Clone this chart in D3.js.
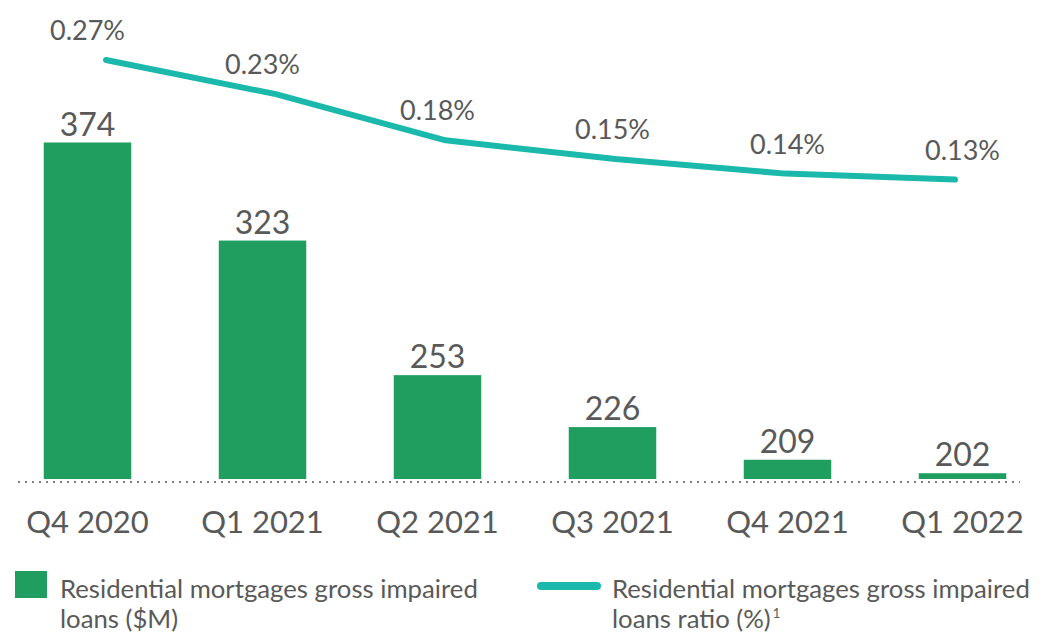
<!DOCTYPE html>
<html>
<head>
<meta charset="utf-8">
<script src="https://cdn.jsdelivr.net/npm/d3@7/dist/d3.min.js"></script>
<style>
  html, body { margin: 0; padding: 0; background: #fff; }
  svg { display: block; }
  text { font-family: Lato, "Open Sans", sans-serif; fill: #595959; }
</style>
</head>
<body>
<svg id="chart" width="1061" height="636"></svg>
<script>
// ---- data ----
const categories = ["Q4 2020", "Q1 2021", "Q2 2021", "Q3 2021", "Q4 2021", "Q1 2022"];
const impairedLoans = [374, 323, 253, 226, 209, 202];           // $M
const impairedRatio = [0.27, 0.23, 0.176, 0.154, 0.137, 0.13];   // %
const legendBars = ["Residential mortgages gross impaired", "loans ($M)"];
const legendLine = ["Residential mortgages gross impaired", "loans ratio (%)", "1"];

const svg = d3.select("#chart");
const BAR = "#1f9e60", LINE = "#1bb9ab";

// ---- scales ----
const x = d3.scaleBand().domain(categories).range([0, 1050]).paddingInner(0.5).paddingOuter(0.25);
const xLine = d3.scalePoint().domain(categories).range([106, 955]);
const yBar = d3.scaleLinear().domain([199, 374]).range([479, 142.5]);
const yLine = d3.scaleLinear().domain([0.13, 0.27]).range([179.6, 60]);

// ---- bars ----
svg.append("g").selectAll("rect").data(categories).join("rect")
  .attr("x", d => x(d))
  .attr("width", x.bandwidth())
  .attr("y", (d, i) => yBar(impairedLoans[i]))
  .attr("height", (d, i) => yBar.range()[0] - yBar(impairedLoans[i]))
  .attr("fill", BAR);

svg.append("g").selectAll("text").data(categories).join("text")
  .attr("x", d => x(d) + x.bandwidth() / 2)
  .attr("y", (d, i) => yBar(impairedLoans[i]) - 7)
  .attr("text-anchor", "middle")
  .style("font-size", "32px")
  .text((d, i) => impairedLoans[i]);

// ---- dotted baseline ----
svg.append("line")
  .attr("x1", 18).attr("x2", 1020).attr("y1", 482).attr("y2", 482)
  .attr("stroke", "#7f7f7f").attr("stroke-width", 2).attr("stroke-dasharray", "2,5");

// ---- x axis labels ----
const xAxis = d3.axisBottom(x).tickSize(0).tickPadding(0);
const gx = svg.append("g").attr("transform", "translate(0,533)").call(xAxis);
gx.select(".domain").remove();
gx.selectAll("text")
  .attr("y", 0).attr("dy", 0)
  .style("font-size", "31px").style("font-family", "Lato, 'Open Sans', sans-serif").attr("fill", "#595959");

// ---- line ----
const line = d3.line()
  .x((d, i) => xLine(categories[i]))
  .y(d => yLine(d));
svg.append("path").datum(impairedRatio)
  .attr("d", line)
  .attr("fill", "none").attr("stroke", LINE).attr("stroke-width", 6)
  .attr("stroke-linecap", "round").attr("stroke-linejoin", "round");

svg.append("g").selectAll("text").data(categories).join("text")
  .attr("x", d => x(d) + x.bandwidth() / 2)
  .attr("y", (d, i) => yLine(impairedRatio[i]) - 20)
  .attr("text-anchor", "middle")
  .style("font-size", "27px")
  .text((d, i) => d3.format(".2f")(impairedRatio[i]) + "%");

// ---- legend ----
const fitWidth = 418;
function legendText(gx0, lines, sup) {
  const g = svg.append("g");
  const t1 = g.append("text").attr("x", 0).attr("y", 598).style("font-size", "25px").text(lines[0]);
  const t2 = g.append("text").attr("x", 0).attr("y", 628).style("font-size", "25px").text(lines[1]);
  const w = t1.node().getComputedTextLength();
  const s = fitWidth / w;
  g.attr("transform", `translate(${gx0},0) scale(${s},1)`);
  if (sup) {
    const w2 = t2.node().getComputedTextLength();
    svg.append("text").attr("x", gx0 + w2 * s + 2).attr("y", 618)
      .style("font-size", "13px").text(sup);
  }
}

svg.append("rect").attr("x", 15).attr("y", 571).attr("width", 32).attr("height", 27).attr("fill", BAR);
legendText(60, legendBars, null);

svg.append("line").attr("x1", 541).attr("x2", 597).attr("y1", 586).attr("y2", 586)
  .attr("stroke", LINE).attr("stroke-width", 8).attr("stroke-linecap", "round");
legendText(612, legendLine.slice(0, 2), legendLine[2]);
</script>
</body>
</html>
